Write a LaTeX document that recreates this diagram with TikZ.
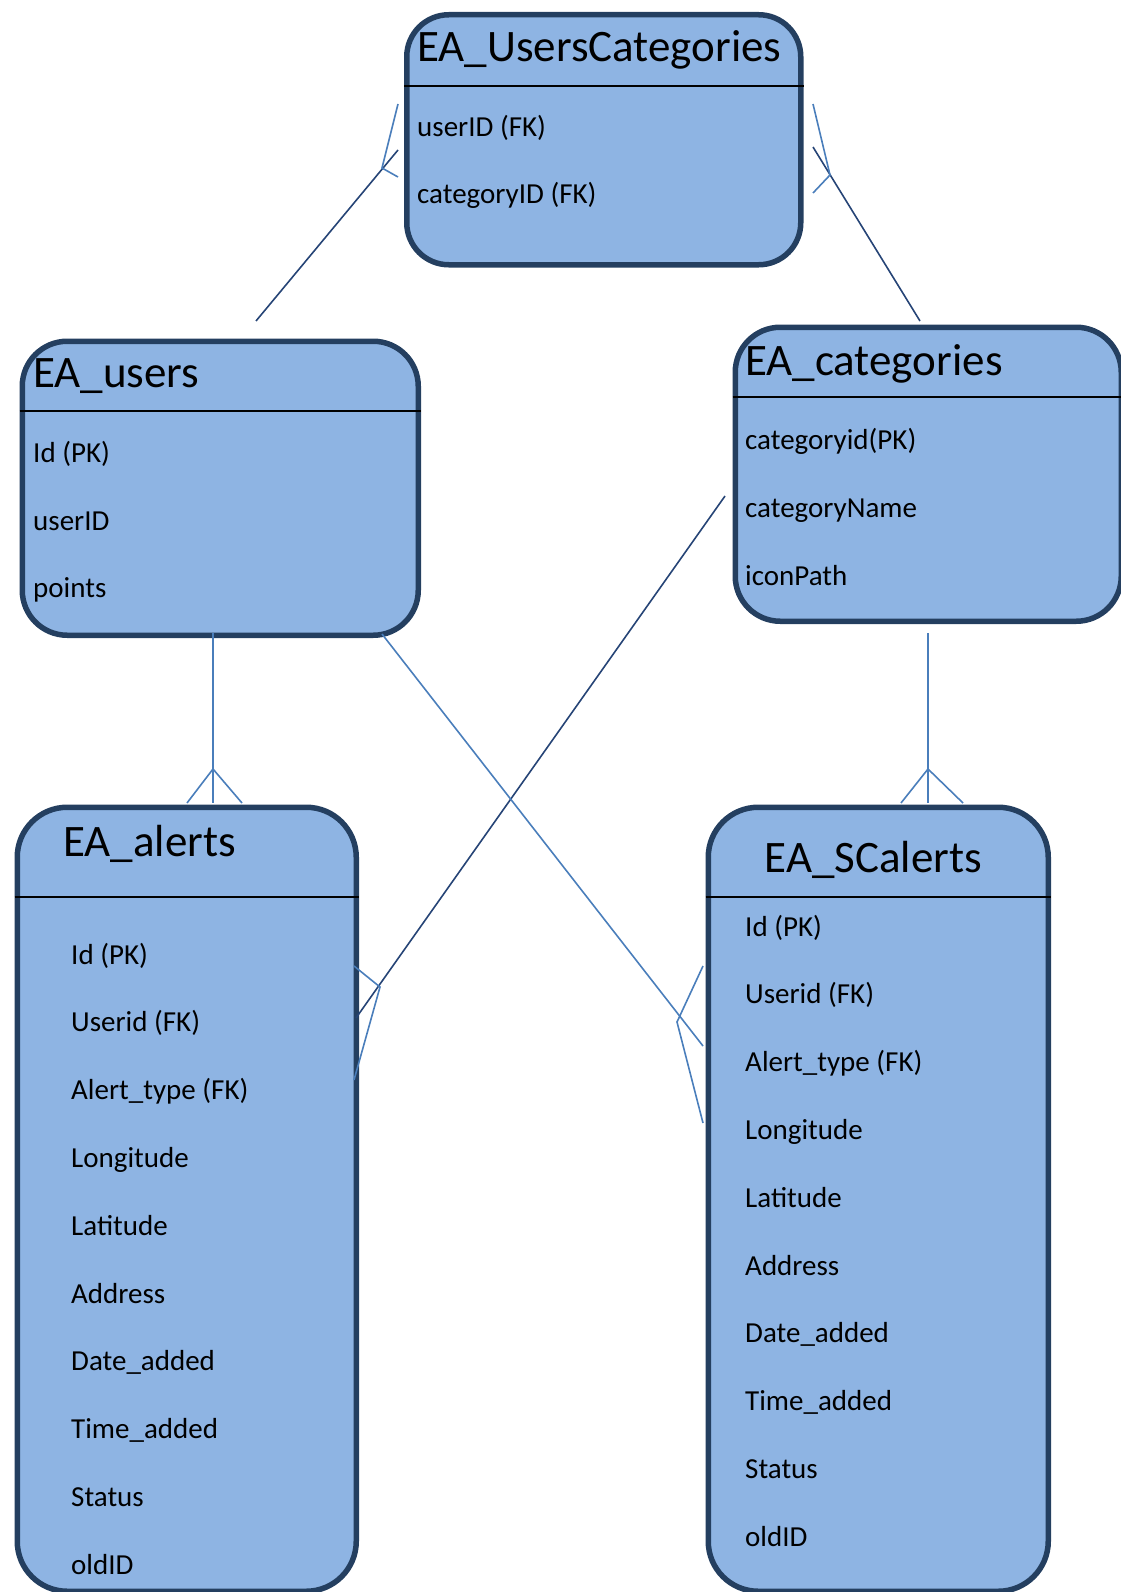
\documentclass[tikz,border=0pt]{standalone}
\usepackage{fontspec}
\setmainfont{Carlito}
\definecolor{boxfill}{RGB}{142,180,227}
\definecolor{boxline}{RGB}{36,63,96}
\definecolor{darkln}{RGB}{38,68,118}
\definecolor{lightln}{RGB}{74,126,187}
\begin{document}
\begin{tikzpicture}[x=1pt,y=-1pt,
 entity/.style={draw=boxline, line width=5.5pt, fill=boxfill, rounded corners=45pt, anchor=north west, inner sep=0pt},
 hdr/.style={draw=black, line width=2pt},
 ttl/.style={anchor=base west, inner sep=0pt, font=\fontsize{45}{54}\selectfont},
 fld/.style={anchor=base west, inner sep=0pt, font=\fontsize{29}{35}\selectfont},
 reldark/.style={line width=1.6pt, draw=darkln},
 rellight/.style={line width=1.6pt, draw=lightln},
]
\useasboundingbox (0,0) rectangle (1121,1592);

% ---------- entities ----------
\node[entity, rounded corners=42pt, minimum width=394pt, minimum height=250pt] (uc) at (404,12) {};
\node[entity, minimum width=396pt, minimum height=294pt] (users) at (19.5,338.5) {};
\node[entity, minimum width=386pt, minimum height=294pt] (cats) at (732.5,324.5) {};
\node[entity, rounded corners=50pt, minimum width=339pt, minimum height=784pt] (alerts) at (14.5,804.5) {};
\node[entity, rounded corners=50pt, minimum width=340pt, minimum height=784pt] (scalerts) at (705.5,804.5) {};

% header separators
\draw[hdr] (uc.west |- 0,86) -- (uc.east |- 0,86);
\draw[hdr] (users.west |- 0,411) -- (users.east |- 0,411);
\draw[hdr] (cats.west |- 0,397) -- (cats.east |- 0,397);
\draw[hdr] (alerts.west |- 0,897) -- (alerts.east |- 0,897);
\draw[hdr] (scalerts.west |- 0,897) -- (scalerts.east |- 0,897);

% ---------- texts ----------
\node[ttl] (uct) at (417,62) {EA\_UsersCategories};
\node[fld] (uc1) at (417,136) {userID (FK)};
\node[fld] (uc2) at (417,203) {categoryID (FK)};

\node[ttl] (ust) at (33,387) {EA\_users};
\node[fld] (us1) at (33,462) {Id (PK)};
\node[fld] (us2) at (33,530) {userID};
\node[fld] (us3) at (33,597) {points};

\node[ttl] (cat) at (745,375) {EA\_categories};
\node[fld] (ca1) at (745,449) {categoryid(PK)};
\node[fld] (ca2) at (745,517) {categoryName};
\node[fld] (ca3) at (745,585) {iconPath};

\node[ttl] (alt) at (63,856) {EA\_alerts};
\node[fld] (al1) at (71,964) {Id (PK)};
\node[fld] (al2) at (71,1031.8) {Userid (FK)};
\node[fld] (al3) at (71,1099.6) {Alert\_type (FK)};
\node[fld] (al4) at (71,1167.4) {Longitude};
\node[fld] (al5) at (71,1235.2) {Latitude};
\node[fld] (al6) at (71,1303) {Address};
\node[fld] (al7) at (71,1370.8) {Date\_added};
\node[fld] (al8) at (71,1438.6) {Time\_added};
\node[fld] (al9) at (71,1506.4) {Status};
\node[fld] (al10) at (71,1574.2) {oldID};

\node[ttl] (sct) at (764.6,872.7) {EA\_SCalerts};
\node[fld] (sc1) at (745,936) {Id (PK)};
\node[fld] (sc2) at (745,1003.8) {Userid (FK)};
\node[fld] (sc3) at (745,1071.6) {Alert\_type (FK)};
\node[fld] (sc4) at (745,1139.4) {Longitude};
\node[fld] (sc5) at (745,1207.2) {Latitude};
\node[fld] (sc6) at (745,1275) {Address};
\node[fld] (sc7) at (745,1342.8) {Date\_added};
\node[fld] (sc8) at (745,1410.6) {Time\_added};
\node[fld] (sc9) at (745,1478.4) {Status};
\node[fld] (sc10) at (745,1546.2) {oldID};

% ---------- connector points ----------
% users -- UsersCategories
\coordinate (r1a) at (256,321);
\coordinate (r1b) at (398,150);
\coordinate (r1j) at (382,168);
\coordinate (r1t1) at (398,104);
\coordinate (r1t2) at (398,177);
% categories -- UsersCategories
\coordinate (r2a) at (920,321);
\coordinate (r2b) at (813,147);
\coordinate (r2j) at (830,175);
\coordinate (r2t1) at (813,104);
\coordinate (r2t2) at (813,193);
% users -- alerts
\coordinate (r3a) at (213,633);
\coordinate (r3b) at (213,803);
\coordinate (r3j) at (213,769);
\coordinate (r3t1) at (187,803);
\coordinate (r3t2) at (242,803);
% categories -- SCalerts
\coordinate (r4a) at (928,633);
\coordinate (r4b) at (928,803);
\coordinate (r4j) at (928,769);
\coordinate (r4t1) at (901,803);
\coordinate (r4t2) at (963,803);
% categories -- alerts
\coordinate (r5a) at (725,496);
\coordinate (r5b) at (356,1018);
\coordinate (r5j) at (380,987);
\coordinate (r5t1) at (354,966);
\coordinate (r5t2) at (354,1080);
% users -- SCalerts
\coordinate (r6a) at (382,634);
\coordinate (r6b) at (703,1046);
\coordinate (r6j) at (677,1022);
\coordinate (r6t1) at (703,966);
\coordinate (r6t2) at (703,1123);

% ---------- connectors ----------
\draw[reldark] (r1a) -- (r1b);
\draw[rellight] (r1t1) -- (r1j) -- (r1t2);

\draw[reldark] (r2a) -- (r2b);
\draw[rellight] (r2t1) -- (r2j) -- (r2t2);

\draw[rellight] (r3a) -- (r3b);
\draw[rellight] (r3t1) -- (r3j) -- (r3t2);

\draw[rellight] (r4a) -- (r4b);
\draw[rellight] (r4t1) -- (r4j) -- (r4t2);

\draw[reldark] (r5a) -- (r5b);
\draw[rellight] (r5t1) -- (r5j) -- (r5t2);

\draw[rellight] (r6a) -- (r6b);
\draw[rellight] (r6t1) -- (r6j) -- (r6t2);
\end{tikzpicture}
\end{document}
